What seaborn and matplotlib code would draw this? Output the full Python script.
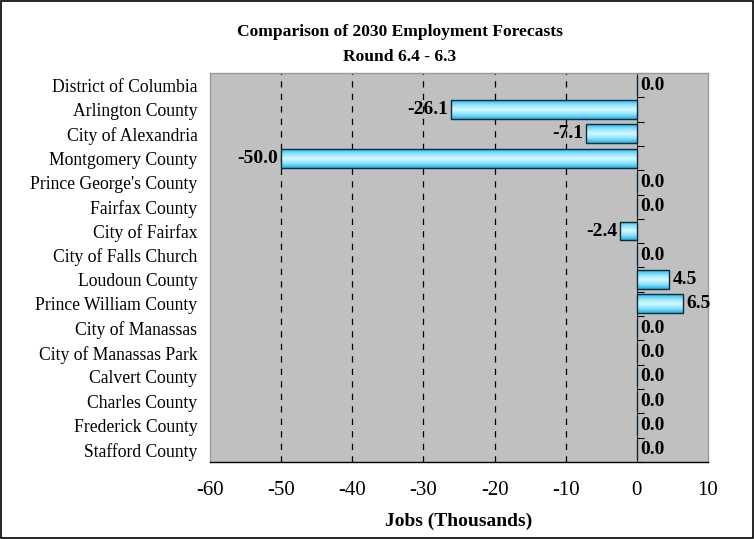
import matplotlib
matplotlib.use("Agg")
import matplotlib.pyplot as plt
from matplotlib.colors import LinearSegmentedColormap
import seaborn as sns
import numpy as np
import pandas as pd

# dados do gráfico
jurisdicoes = ["District of Columbia", "Arlington County", "City of Alexandria",
               "Montgomery County", "Prince George's County", "Fairfax County",
               "City of Fairfax", "City of Falls Church", "Loudoun County",
               "Prince William County", "City of Manassas", "City of Manassas Park",
               "Calvert County", "Charles County", "Frederick County", "Stafford County"]
diferencas = [0.0, -26.1, -7.1, -50.0, 0.0, 0.0, -2.4, 0.0, 4.5, 6.5,
              0.0, 0.0, 0.0, 0.0, 0.0, 0.0]
ticks_x = [-60, -50, -40, -30, -20, -10, 0, 10]

df = pd.DataFrame({"jurisdicao": jurisdicoes, "diferenca": diferencas})

sns.set_style("white")
plt.rcParams["font.family"] = ["Liberation Serif", "DejaVu Serif"]
plt.rcParams["text.color"] = "black"
plt.rcParams["xtick.color"] = "black"
plt.rcParams["ytick.color"] = "black"
plt.rcParams["axes.labelcolor"] = "black"

fig = plt.figure(figsize=(7.54, 5.39), dpi=100)
ax = fig.add_axes([0.2785, 0.1429, 0.6605, 0.7217])
ax.set_facecolor("#C0C0C0")

sns.barplot(data=df, y="jurisdicao", x="diferenca", orient="h", ax=ax,
            color="#A8ECFF", edgecolor="#0F2A3A", linewidth=1.0, width=0.78,
            saturation=1)

ax.set_xlim(-60, 10)
ax.set_ylim(len(jurisdicoes) - 0.5, -0.5)

# degradê nas barras
degrade = LinearSegmentedColormap.from_list(
    "ciano", ["#22BBEE", "#8EE4FF", "#D8F8FF", "#8EE4FF", "#22B4E6"])
grad = np.linspace(0, 1, 64).reshape(-1, 1)
for barra in ax.patches:
    x0, y0 = barra.get_x(), barra.get_y()
    w, h = barra.get_width(), barra.get_height()
    if w == 0:
        continue
    im = ax.imshow(grad, cmap=degrade, aspect="auto",
                   extent=[x0, x0 + w, y0 + h, y0], zorder=barra.get_zorder(),
                   interpolation="bilinear")
    im.set_clip_path(barra)
    barra.set_facecolor("none")
    barra.set_zorder(barra.get_zorder() + 0.1)
ax.set_xlim(-60, 10)
ax.set_ylim(len(jurisdicoes) - 0.5, -0.5)
ax.set_aspect("auto")

ax.set_xticks(ticks_x)
ax.set_xticklabels([str(t) for t in ticks_x], fontsize=15)
ax.tick_params(axis="x", direction="out", length=5, color="black", pad=9)
ax.tick_params(axis="y", length=0, pad=9, labelsize=12.7)

# grade tracejada
for t in ticks_x[1:-2]:
    ax.axvline(t, color="black", linestyle=(0, (5, 5)), linewidth=0.9, zorder=0)

for lado in ["top", "right", "left"]:
    ax.spines[lado].set_color("#9A9A9A")
    ax.spines[lado].set_linewidth(1.0)
ax.spines["bottom"].set_color("black")
ax.spines["bottom"].set_linewidth(1.0)

# eixo vertical em x=0
eixo0 = ax.secondary_yaxis(6 / 7)
eixo0.set_yticks([i - 0.5 for i in range(len(jurisdicoes) + 1)])
eixo0.set_yticklabels([])
eixo0.tick_params(direction="out", length=5, color="black")
eixo0.spines["left"].set_color("black")
eixo0.spines["left"].set_linewidth(1.2)

# rótulos dos valores
for i, v in enumerate(diferencas):
    if v < 0:
        ax.text(v - 0.4, i, f"{v:.1f}", ha="right", va="center",
                fontsize=14, fontweight="bold")
    else:
        ax.text(v + 0.5, i, f"{v:.1f}", ha="left", va="center",
                fontsize=14, fontweight="bold")

ax.set_ylabel("")
ax.set_xlabel("Jobs (Thousands)", fontsize=14, fontweight="bold", labelpad=9)

fig.text(0.5305, 0.941, "Comparison of 2030 Employment Forecasts", ha="center",
         va="center", fontsize=12.6, fontweight="bold")
fig.text(0.5305, 0.895, "Round 6.4 - 6.3", ha="center", va="center",
         fontsize=12.6, fontweight="bold")

# moldura da figura
fig.patches.append(plt.Rectangle((0.001, 0.001), 0.998, 0.998, transform=fig.transFigure,
                                 fill=False, edgecolor="black", linewidth=1.2))

fig.savefig("out.png", dpi=100)
